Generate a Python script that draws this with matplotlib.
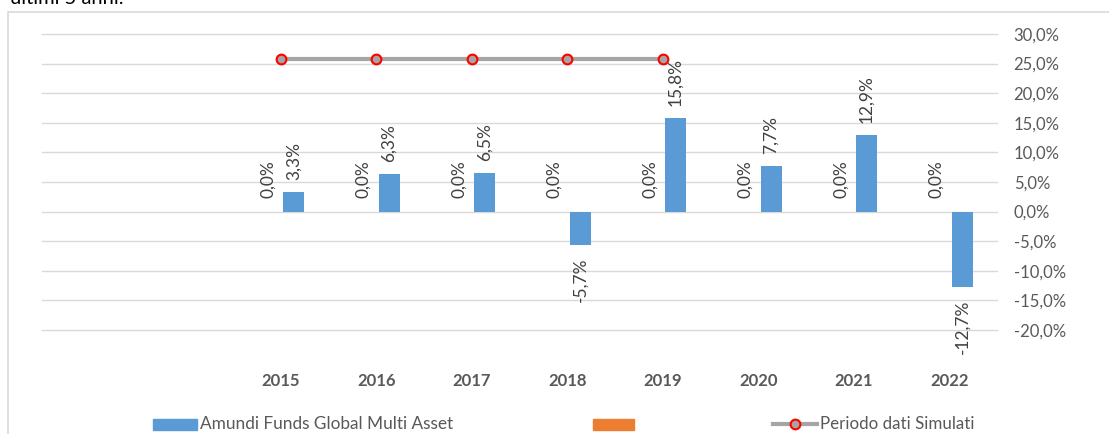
import matplotlib
matplotlib.use("Agg")
import matplotlib.pyplot as plt
from matplotlib.patches import Rectangle
from matplotlib.lines import Line2D

plt.rcParams['font.family'] = ['Lato', 'DejaVu Sans']

categories = ['', '', '2015', '2016', '2017', '2018', '2019', '2020', '2021', '2022']
fund = [None, None, 3.3, 6.3, 6.5, -5.7, 15.8, 7.7, 12.9, -12.7]
other = [None, None, 0.0, 0.0, 0.0, 0.0, 0.0, 0.0, 0.0, 0.0]
simulated = [None, None, 25.8, 25.8, 25.8, 25.8, 25.8, None, None, None]

fund_label = 'Amundi Funds Global Multi Asset'
sim_label = 'Periodo dati Simulati'

W, H = 1109, 434
fig = plt.figure(figsize=(W / 100, H / 100), dpi=100)
ax = fig.add_axes([42 / W, 1 - 330 / H, 955 / W, 296 / H])

blue = '#5B9BD5'
orange = '#ED7D31'
grey_txt = '#595959'
lbl_txt = '#404040'

bw = 0.22
off = 0.136


def pct(v):
    return f"{v:.1f}%".replace('.', ',')


for i, (f, o) in enumerate(zip(fund, other)):
    if o is not None:
        ax.bar(i - off, o, width=bw, color=orange, zorder=3)
        ax.annotate(pct(o), (i - off, o), xytext=(0, 10), textcoords='offset points',
                    rotation=90, ha='center', va='bottom', fontsize=12.5, color=lbl_txt)
    if f is not None:
        ax.bar(i + off, f, width=bw, color=blue, zorder=3)
        if f >= 0:
            ax.annotate(pct(f), (i + off, f), xytext=(0, 9), textcoords='offset points',
                        rotation=90, ha='center', va='bottom', fontsize=12.5, color=lbl_txt)
        else:
            ax.annotate(pct(f), (i + off, f), xytext=(0, -9), textcoords='offset points',
                        rotation=90, ha='center', va='top', fontsize=12.5, color=lbl_txt)

xs = [i for i, v in enumerate(simulated) if v is not None]
ys = [v for v in simulated if v is not None]
ax.plot(xs, ys, color='#A5A5A5', lw=3, marker='o', ms=7, mfc='#A5A5A5',
        mec='red', mew=1.5, zorder=4)

ax.set_xlim(-0.5, len(categories) - 0.5)
ax.set_ylim(-20, 30)
ax.set_yticks(range(-20, 31, 5))
ax.set_yticklabels([pct(v) for v in range(-20, 31, 5)])
ax.yaxis.tick_right()
ax.set_xticks(range(len(categories)))
ax.set_xticklabels(categories, fontweight='bold', color=grey_txt, fontsize=12)
ax.tick_params(axis='x', length=0, pad=31)
ax.tick_params(axis='y', length=0, pad=12, labelsize=12, labelcolor=grey_txt)
ax.grid(axis='y', color='#D9D9D9', lw=1, zorder=0)
for g in ax.yaxis.get_gridlines():
    g.set_clip_on(False)
for s in ax.spines.values():
    s.set_visible(False)

# outer frame
fig.patches.append(Rectangle((8 / W, -0.1), 1.2, (H - 12) / H + 0.1, transform=fig.transFigure,
                             fill=False, edgecolor='#D9D9D9', lw=1.2))
fig.text(10 / W, 1 - 4 / H, 'ultimi 5 anni.', fontsize=14.5, color='black', va='baseline')

# legend
ly = 1 - 424 / H
fig.patches.append(Rectangle((153 / W, ly - 5.5 / H), 44 / W, 11 / H, transform=fig.transFigure,
                             color=blue))
fig.text(200 / W, ly, fund_label, fontsize=12.4, color=grey_txt, va='center')
fig.patches.append(Rectangle((593 / W, ly - 5.5 / H), 41 / W, 11 / H, transform=fig.transFigure,
                             color=orange))
fig.lines.append(Line2D([773 / W, 817 / W], [ly, ly], transform=fig.transFigure, color='#A5A5A5',
                        lw=3))
fig.lines.append(Line2D([795 / W], [ly], transform=fig.transFigure, marker='o', ms=7,
                        mfc='#A5A5A5', mec='red', mew=1.5, ls='none'))
fig.text(820 / W, ly, sim_label, fontsize=12.2, color=grey_txt, va='center')

fig.savefig('out.png', dpi=100)
